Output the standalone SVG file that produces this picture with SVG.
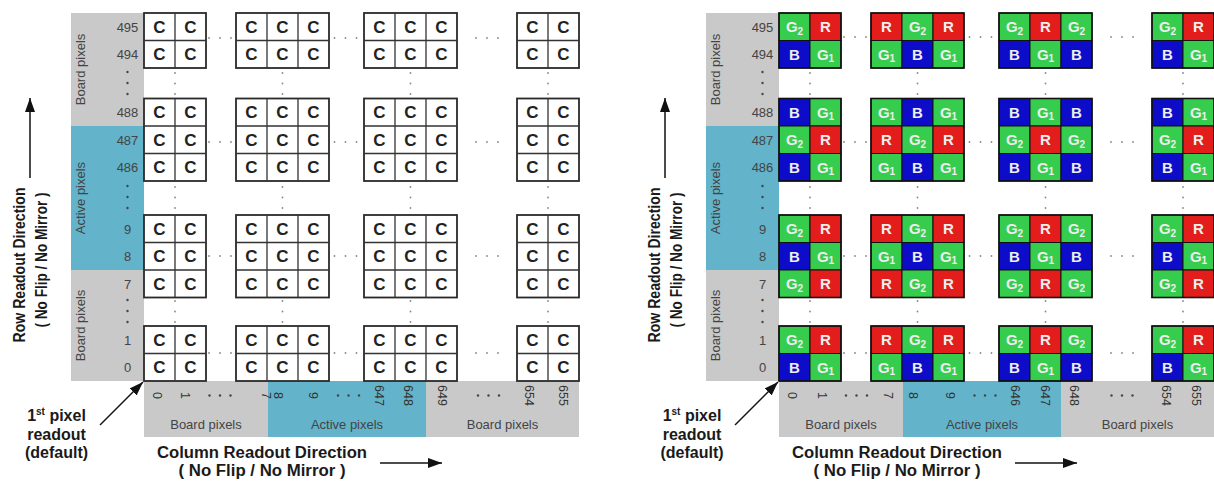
<svg xmlns="http://www.w3.org/2000/svg" width="1214" height="482" viewBox="0 0 1214 482">
  <style>
    text { font-family: "Liberation Sans", Arial, sans-serif; }
    .sg { fill: #c9c9c9; }
    .sb { fill: #63b3cb; }
    .wb { fill: #ffffff; stroke: #2a2a2a; stroke-width: 1.8; }
    .gl { fill: none; stroke: #333333; stroke-width: 1.3; }
    .ob { fill: none; stroke: #111111; stroke-width: 1.6; }
    .g { fill: #36cd4e; stroke: #111111; stroke-width: 1; }
    .r { fill: #e31c1c; stroke: #111111; stroke-width: 1; }
    .b { fill: #0c0cc9; stroke: #111111; stroke-width: 1; }
    .tc { font-size: 17px; font-weight: bold; fill: #222222; text-anchor: middle; }
    .tb { font-size: 15px; font-weight: bold; fill: #eeeeee; text-anchor: middle; }
    .sub { font-size: 10px; }
    .rn { font-size: 13px; fill: #444444; text-anchor: middle; }
    .cn { font-size: 12.5px; fill: #333333; text-anchor: middle; }
    .sl { font-size: 13px; fill: #444444; text-anchor: middle; }
    .hd { font-size: 16px; font-weight: bold; fill: #1a1a1a; text-anchor: middle; }
    .sup { font-size: 10px; }
    .dk { fill: #444444; }
    .lt { fill: #888888; }
    .ar { fill: none; stroke: #111111; stroke-width: 1.5; marker-end: url(#ah); }
  </style>
  <defs>
    <marker id="ah" viewBox="0 0 14 10" refX="14" refY="5" markerWidth="14" markerHeight="10" markerUnits="userSpaceOnUse" orient="auto">
      <path d="M0 0L14 5L0 10z" fill="#111111"/>
    </marker>
    <!-- dot columns / rows reused in both panels -->
    <g id="vdots">
      <circle class="lt" cx="0" cy="0" r="0.9"/>
      <circle class="lt" cx="0" cy="10.5" r="0.9"/>
      <circle class="lt" cx="0" cy="21" r="0.9"/>
    </g>
    <g id="hdots">
      <circle class="lt" cx="-11" cy="0" r="0.9"/>
      <circle class="lt" cx="0" cy="0" r="0.9"/>
      <circle class="lt" cx="11" cy="0" r="0.9"/>
    </g>
    <g id="sdots">
      <circle class="dk" cx="0" cy="0" r="1.2"/>
      <circle class="dk" cx="0" cy="11" r="1.2"/>
      <circle class="dk" cx="0" cy="22" r="1.2"/>
    </g>
    <g id="ldots">
      <circle class="dk" cx="-10.5" cy="0" r="1.2"/>
      <circle class="dk" cx="0" cy="0" r="1.2"/>
      <circle class="dk" cx="10.5" cy="0" r="1.2"/>
    </g>
  </defs>

  <rect width="1214" height="482" fill="#ffffff"/>

  <!-- ================= Monochrome sensor (left) ================= -->
  <g id="panel-mono">
    <g id="mono-row-strip">
      <rect class="sg" x="71" y="13" width="73" height="113"/>
      <rect class="sb" x="71" y="126" width="73" height="144"/>
      <rect class="sg" x="71" y="270" width="73" height="111"/>
      <text class="sl" transform="translate(84.5,69.5) rotate(-90)">Board pixels</text>
      <text class="sl" transform="translate(84.5,198) rotate(-90)">Active pixels</text>
      <text class="sl" transform="translate(84.5,325.5) rotate(-90)">Board pixels</text>
      <text class="rn" x="127.5" y="31.5">495</text>
      <text class="rn" x="127.5" y="59">494</text>
      <text class="rn" x="127.5" y="117">488</text>
      <text class="rn" x="127.5" y="144.5">487</text>
      <text class="rn" x="127.5" y="172">486</text>
      <text class="rn" x="127.5" y="233.5">9</text>
      <text class="rn" x="127.5" y="261">8</text>
      <text class="rn" x="127.5" y="288.5">7</text>
      <text class="rn" x="127.5" y="344.5">1</text>
      <text class="rn" x="127.5" y="372">0</text>
      <use href="#sdots" x="127.5" y="72"/>
      <use href="#sdots" x="127.5" y="186"/>
      <use href="#sdots" x="127.5" y="300"/>
    </g>
    <g id="mono-col-strip">
      <rect class="sg" x="144" y="381" width="124" height="56"/>
      <rect class="sb" x="268" y="381" width="158" height="56"/>
      <rect class="sg" x="426" y="381" width="153" height="56"/>
      <text class="cn" transform="translate(157,395.5) rotate(90)" y="4.5">0</text>
      <text class="cn" transform="translate(185,395.5) rotate(90)" y="4.5">1</text>
      <text class="cn" transform="translate(266,395.5) rotate(90)" y="4.5">7</text>
      <text class="cn" transform="translate(278,395.5) rotate(90)" y="4.5">8</text>
      <text class="cn" transform="translate(313,395.5) rotate(90)" y="4.5">9</text>
      <text class="cn" transform="translate(379,395.5) rotate(90)" y="4.5">647</text>
      <text class="cn" transform="translate(408,395.5) rotate(90)" y="4.5">648</text>
      <text class="cn" transform="translate(442,395.5) rotate(90)" y="4.5">649</text>
      <text class="cn" transform="translate(529,395.5) rotate(90)" y="4.5">654</text>
      <text class="cn" transform="translate(563,395.5) rotate(90)" y="4.5">655</text>
      <use href="#ldots" x="220" y="395.5"/>
      <use href="#ldots" x="348.5" y="395.5"/>
      <use href="#ldots" x="488.5" y="395.5"/>
      <text class="sl" x="206" y="429">Board pixels</text>
      <text class="sl" x="347" y="429">Active pixels</text>
      <text class="sl" x="502.5" y="429">Board pixels</text>
    </g>

    <!-- rows 495-494 -->
    <g id="mono-a1">
      <rect class="wb" x="144" y="13" width="62" height="55"/>
      <path class="gl" d="M175 13V68M144 40.5H206"/>
      <text class="tc" x="159.5" y="32.5">C</text><text class="tc" x="190.5" y="32.5">C</text>
      <text class="tc" x="159.5" y="60">C</text><text class="tc" x="190.5" y="60">C</text>
    </g>
    <g id="mono-a2">
      <rect class="wb" x="236" y="13" width="93" height="55"/>
      <path class="gl" d="M267 13V68M298 13V68M236 40.5H329"/>
      <text class="tc" x="251.5" y="32.5">C</text><text class="tc" x="282.5" y="32.5">C</text><text class="tc" x="313.5" y="32.5">C</text>
      <text class="tc" x="251.5" y="60">C</text><text class="tc" x="282.5" y="60">C</text><text class="tc" x="313.5" y="60">C</text>
    </g>
    <g id="mono-a3">
      <rect class="wb" x="364" y="13" width="93" height="55"/>
      <path class="gl" d="M395 13V68M426 13V68M364 40.5H457"/>
      <text class="tc" x="379.5" y="32.5">C</text><text class="tc" x="410.5" y="32.5">C</text><text class="tc" x="441.5" y="32.5">C</text>
      <text class="tc" x="379.5" y="60">C</text><text class="tc" x="410.5" y="60">C</text><text class="tc" x="441.5" y="60">C</text>
    </g>
    <g id="mono-a4">
      <rect class="wb" x="517" y="13" width="62" height="55"/>
      <path class="gl" d="M548 13V68M517 40.5H579"/>
      <text class="tc" x="532.5" y="32.5">C</text><text class="tc" x="563.5" y="32.5">C</text>
      <text class="tc" x="532.5" y="60">C</text><text class="tc" x="563.5" y="60">C</text>
    </g>

    <!-- rows 488-486 -->
    <g id="mono-b1">
      <rect class="wb" x="144" y="98.5" width="62" height="82.5"/>
      <path class="gl" d="M175 98.5V181M144 126H206M144 153.5H206"/>
      <text class="tc" x="159.5" y="118">C</text><text class="tc" x="190.5" y="118">C</text>
      <text class="tc" x="159.5" y="145.5">C</text><text class="tc" x="190.5" y="145.5">C</text>
      <text class="tc" x="159.5" y="173">C</text><text class="tc" x="190.5" y="173">C</text>
    </g>
    <g id="mono-b2">
      <rect class="wb" x="236" y="98.5" width="93" height="82.5"/>
      <path class="gl" d="M267 98.5V181M298 98.5V181M236 126H329M236 153.5H329"/>
      <text class="tc" x="251.5" y="118">C</text><text class="tc" x="282.5" y="118">C</text><text class="tc" x="313.5" y="118">C</text>
      <text class="tc" x="251.5" y="145.5">C</text><text class="tc" x="282.5" y="145.5">C</text><text class="tc" x="313.5" y="145.5">C</text>
      <text class="tc" x="251.5" y="173">C</text><text class="tc" x="282.5" y="173">C</text><text class="tc" x="313.5" y="173">C</text>
    </g>
    <g id="mono-b3">
      <rect class="wb" x="364" y="98.5" width="93" height="82.5"/>
      <path class="gl" d="M395 98.5V181M426 98.5V181M364 126H457M364 153.5H457"/>
      <text class="tc" x="379.5" y="118">C</text><text class="tc" x="410.5" y="118">C</text><text class="tc" x="441.5" y="118">C</text>
      <text class="tc" x="379.5" y="145.5">C</text><text class="tc" x="410.5" y="145.5">C</text><text class="tc" x="441.5" y="145.5">C</text>
      <text class="tc" x="379.5" y="173">C</text><text class="tc" x="410.5" y="173">C</text><text class="tc" x="441.5" y="173">C</text>
    </g>
    <g id="mono-b4">
      <rect class="wb" x="517" y="98.5" width="62" height="82.5"/>
      <path class="gl" d="M548 98.5V181M517 126H579M517 153.5H579"/>
      <text class="tc" x="532.5" y="118">C</text><text class="tc" x="563.5" y="118">C</text>
      <text class="tc" x="532.5" y="145.5">C</text><text class="tc" x="563.5" y="145.5">C</text>
      <text class="tc" x="532.5" y="173">C</text><text class="tc" x="563.5" y="173">C</text>
    </g>

    <!-- rows 9-7 -->
    <g id="mono-c1">
      <rect class="wb" x="144" y="215" width="62" height="82.5"/>
      <path class="gl" d="M175 215V297.5M144 242.5H206M144 270H206"/>
      <text class="tc" x="159.5" y="234.5">C</text><text class="tc" x="190.5" y="234.5">C</text>
      <text class="tc" x="159.5" y="262">C</text><text class="tc" x="190.5" y="262">C</text>
      <text class="tc" x="159.5" y="289.5">C</text><text class="tc" x="190.5" y="289.5">C</text>
    </g>
    <g id="mono-c2">
      <rect class="wb" x="236" y="215" width="93" height="82.5"/>
      <path class="gl" d="M267 215V297.5M298 215V297.5M236 242.5H329M236 270H329"/>
      <text class="tc" x="251.5" y="234.5">C</text><text class="tc" x="282.5" y="234.5">C</text><text class="tc" x="313.5" y="234.5">C</text>
      <text class="tc" x="251.5" y="262">C</text><text class="tc" x="282.5" y="262">C</text><text class="tc" x="313.5" y="262">C</text>
      <text class="tc" x="251.5" y="289.5">C</text><text class="tc" x="282.5" y="289.5">C</text><text class="tc" x="313.5" y="289.5">C</text>
    </g>
    <g id="mono-c3">
      <rect class="wb" x="364" y="215" width="93" height="82.5"/>
      <path class="gl" d="M395 215V297.5M426 215V297.5M364 242.5H457M364 270H457"/>
      <text class="tc" x="379.5" y="234.5">C</text><text class="tc" x="410.5" y="234.5">C</text><text class="tc" x="441.5" y="234.5">C</text>
      <text class="tc" x="379.5" y="262">C</text><text class="tc" x="410.5" y="262">C</text><text class="tc" x="441.5" y="262">C</text>
      <text class="tc" x="379.5" y="289.5">C</text><text class="tc" x="410.5" y="289.5">C</text><text class="tc" x="441.5" y="289.5">C</text>
    </g>
    <g id="mono-c4">
      <rect class="wb" x="517" y="215" width="62" height="82.5"/>
      <path class="gl" d="M548 215V297.5M517 242.5H579M517 270H579"/>
      <text class="tc" x="532.5" y="234.5">C</text><text class="tc" x="563.5" y="234.5">C</text>
      <text class="tc" x="532.5" y="262">C</text><text class="tc" x="563.5" y="262">C</text>
      <text class="tc" x="532.5" y="289.5">C</text><text class="tc" x="563.5" y="289.5">C</text>
    </g>

    <!-- rows 1-0 -->
    <g id="mono-d1">
      <rect class="wb" x="144" y="326" width="62" height="55"/>
      <path class="gl" d="M175 326V381M144 353.5H206"/>
      <text class="tc" x="159.5" y="345.5">C</text><text class="tc" x="190.5" y="345.5">C</text>
      <text class="tc" x="159.5" y="373">C</text><text class="tc" x="190.5" y="373">C</text>
    </g>
    <g id="mono-d2">
      <rect class="wb" x="236" y="326" width="93" height="55"/>
      <path class="gl" d="M267 326V381M298 326V381M236 353.5H329"/>
      <text class="tc" x="251.5" y="345.5">C</text><text class="tc" x="282.5" y="345.5">C</text><text class="tc" x="313.5" y="345.5">C</text>
      <text class="tc" x="251.5" y="373">C</text><text class="tc" x="282.5" y="373">C</text><text class="tc" x="313.5" y="373">C</text>
    </g>
    <g id="mono-d3">
      <rect class="wb" x="364" y="326" width="93" height="55"/>
      <path class="gl" d="M395 326V381M426 326V381M364 353.5H457"/>
      <text class="tc" x="379.5" y="345.5">C</text><text class="tc" x="410.5" y="345.5">C</text><text class="tc" x="441.5" y="345.5">C</text>
      <text class="tc" x="379.5" y="373">C</text><text class="tc" x="410.5" y="373">C</text><text class="tc" x="441.5" y="373">C</text>
    </g>
    <g id="mono-d4">
      <rect class="wb" x="517" y="326" width="62" height="55"/>
      <path class="gl" d="M548 326V381M517 353.5H579"/>
      <text class="tc" x="532.5" y="345.5">C</text><text class="tc" x="563.5" y="345.5">C</text>
      <text class="tc" x="532.5" y="373">C</text><text class="tc" x="563.5" y="373">C</text>
    </g>

    <!-- ellipsis dots between blocks -->
    <g id="mono-gaps">
      <use href="#vdots" x="175" y="73"/><use href="#vdots" x="282.5" y="73"/><use href="#vdots" x="410.5" y="73"/><use href="#vdots" x="548" y="73"/>
      <use href="#vdots" x="175" y="187"/><use href="#vdots" x="282.5" y="187"/><use href="#vdots" x="410.5" y="187"/><use href="#vdots" x="548" y="187"/>
      <use href="#vdots" x="175" y="301"/><use href="#vdots" x="282.5" y="301"/><use href="#vdots" x="410.5" y="301"/><use href="#vdots" x="548" y="301"/>
      <use href="#hdots" x="220" y="38"/><use href="#hdots" x="345.5" y="38"/><use href="#hdots" x="487" y="38"/>
      <use href="#hdots" x="220" y="142"/><use href="#hdots" x="345.5" y="142"/><use href="#hdots" x="487" y="142"/>
      <use href="#hdots" x="220" y="256"/><use href="#hdots" x="345.5" y="256"/><use href="#hdots" x="487" y="256"/>
      <use href="#hdots" x="220" y="353"/><use href="#hdots" x="345.5" y="353"/><use href="#hdots" x="487" y="353"/>
    </g>

    <g id="mono-labels">
      <text class="hd" transform="translate(25,265) rotate(-90)" textLength="155" lengthAdjust="spacingAndGlyphs">Row Readout Direction</text>
      <text class="hd" transform="translate(47,260) rotate(-90)" textLength="135" lengthAdjust="spacingAndGlyphs">( No Flip / No Mirror )</text>
      <text class="hd" x="262" y="458" textLength="210" lengthAdjust="spacingAndGlyphs">Column Readout Direction</text>
      <text class="hd" x="262" y="476" textLength="167" lengthAdjust="spacingAndGlyphs">( No Flip / No Mirror )</text>
      <text class="hd" x="56.5" y="421">1<tspan class="sup" dy="-6">st</tspan><tspan dy="6"> pixel</tspan></text>
      <text class="hd" x="56.5" y="440">readout</text>
      <text class="hd" x="56.5" y="458">(default)</text>
    </g>

    <g id="mono-connectors">
      <line class="ar" x1="30" y1="178" x2="30" y2="98"/>
      <line class="ar" x1="100" y1="425" x2="143" y2="382"/>
      <line class="ar" x1="380" y1="463" x2="442" y2="463"/>
    </g>
  </g>

  <!-- ================= Bayer colour sensor (right) ================= -->
  <g id="panel-bayer" transform="translate(635,0)">
    <g id="bayer-row-strip">
      <rect class="sg" x="71" y="13" width="73" height="113"/>
      <rect class="sb" x="71" y="126" width="73" height="144"/>
      <rect class="sg" x="71" y="270" width="73" height="111"/>
      <text class="sl" transform="translate(84.5,69.5) rotate(-90)">Board pixels</text>
      <text class="sl" transform="translate(84.5,198) rotate(-90)">Active pixels</text>
      <text class="sl" transform="translate(84.5,325.5) rotate(-90)">Board pixels</text>
      <text class="rn" x="127.5" y="31.5">495</text>
      <text class="rn" x="127.5" y="59">494</text>
      <text class="rn" x="127.5" y="117">488</text>
      <text class="rn" x="127.5" y="144.5">487</text>
      <text class="rn" x="127.5" y="172">486</text>
      <text class="rn" x="127.5" y="233.5">9</text>
      <text class="rn" x="127.5" y="261">8</text>
      <text class="rn" x="127.5" y="288.5">7</text>
      <text class="rn" x="127.5" y="344.5">1</text>
      <text class="rn" x="127.5" y="372">0</text>
      <use href="#sdots" x="127.5" y="72"/>
      <use href="#sdots" x="127.5" y="186"/>
      <use href="#sdots" x="127.5" y="300"/>
    </g>
    <g id="bayer-col-strip">
      <rect class="sg" x="144" y="381" width="124" height="56"/>
      <rect class="sb" x="268" y="381" width="158" height="56"/>
      <rect class="sg" x="426" y="381" width="153" height="56"/>
      <text class="cn" transform="translate(157,395.5) rotate(90)" y="4.5">0</text>
      <text class="cn" transform="translate(187,395.5) rotate(90)" y="4.5">1</text>
      <text class="cn" transform="translate(253,395.5) rotate(90)" y="4.5">7</text>
      <text class="cn" transform="translate(278,395.5) rotate(90)" y="4.5">8</text>
      <text class="cn" transform="translate(315,395.5) rotate(90)" y="4.5">9</text>
      <text class="cn" transform="translate(380,395.5) rotate(90)" y="4.5">646</text>
      <text class="cn" transform="translate(410,395.5) rotate(90)" y="4.5">647</text>
      <text class="cn" transform="translate(439,395.5) rotate(90)" y="4.5">648</text>
      <text class="cn" transform="translate(531,395.5) rotate(90)" y="4.5">654</text>
      <text class="cn" transform="translate(561,395.5) rotate(90)" y="4.5">655</text>
      <use href="#ldots" x="221.5" y="395.5"/>
      <use href="#ldots" x="350" y="395.5"/>
      <use href="#ldots" x="487" y="395.5"/>
      <text class="sl" x="206" y="429">Board pixels</text>
      <text class="sl" x="347" y="429">Active pixels</text>
      <text class="sl" x="502.5" y="429">Board pixels</text>
    </g>

    <!-- rows 495-494 -->
    <g id="bayer-a1">
      <rect class="g" x="144" y="13" width="31" height="27.5"/><rect class="r" x="175" y="13" width="31" height="27.5"/>
      <rect class="b" x="144" y="40.5" width="31" height="27.5"/><rect class="g" x="175" y="40.5" width="31" height="27.5"/>
      <rect class="ob" x="144" y="13" width="62" height="55"/>
      <text class="tb" x="159.5" y="32">G<tspan class="sub" dy="2.5">2</tspan></text><text class="tb" x="190.5" y="32">R</text>
      <text class="tb" x="159.5" y="59.5">B</text><text class="tb" x="190.5" y="59.5">G<tspan class="sub" dy="2.5">1</tspan></text>
    </g>
    <g id="bayer-a2">
      <rect class="r" x="236" y="13" width="31" height="27.5"/><rect class="g" x="267" y="13" width="31" height="27.5"/><rect class="r" x="298" y="13" width="31" height="27.5"/>
      <rect class="g" x="236" y="40.5" width="31" height="27.5"/><rect class="b" x="267" y="40.5" width="31" height="27.5"/><rect class="g" x="298" y="40.5" width="31" height="27.5"/>
      <rect class="ob" x="236" y="13" width="93" height="55"/>
      <text class="tb" x="251.5" y="32">R</text><text class="tb" x="282.5" y="32">G<tspan class="sub" dy="2.5">2</tspan></text><text class="tb" x="313.5" y="32">R</text>
      <text class="tb" x="251.5" y="59.5">G<tspan class="sub" dy="2.5">1</tspan></text><text class="tb" x="282.5" y="59.5">B</text><text class="tb" x="313.5" y="59.5">G<tspan class="sub" dy="2.5">1</tspan></text>
    </g>
    <g id="bayer-a3">
      <rect class="g" x="364" y="13" width="31" height="27.5"/><rect class="r" x="395" y="13" width="31" height="27.5"/><rect class="g" x="426" y="13" width="31" height="27.5"/>
      <rect class="b" x="364" y="40.5" width="31" height="27.5"/><rect class="g" x="395" y="40.5" width="31" height="27.5"/><rect class="b" x="426" y="40.5" width="31" height="27.5"/>
      <rect class="ob" x="364" y="13" width="93" height="55"/>
      <text class="tb" x="379.5" y="32">G<tspan class="sub" dy="2.5">2</tspan></text><text class="tb" x="410.5" y="32">R</text><text class="tb" x="441.5" y="32">G<tspan class="sub" dy="2.5">2</tspan></text>
      <text class="tb" x="379.5" y="59.5">B</text><text class="tb" x="410.5" y="59.5">G<tspan class="sub" dy="2.5">1</tspan></text><text class="tb" x="441.5" y="59.5">B</text>
    </g>
    <g id="bayer-a4">
      <rect class="g" x="517" y="13" width="31" height="27.5"/><rect class="r" x="548" y="13" width="31" height="27.5"/>
      <rect class="b" x="517" y="40.5" width="31" height="27.5"/><rect class="g" x="548" y="40.5" width="31" height="27.5"/>
      <rect class="ob" x="517" y="13" width="62" height="55"/>
      <text class="tb" x="532.5" y="32">G<tspan class="sub" dy="2.5">2</tspan></text><text class="tb" x="563.5" y="32">R</text>
      <text class="tb" x="532.5" y="59.5">B</text><text class="tb" x="563.5" y="59.5">G<tspan class="sub" dy="2.5">1</tspan></text>
    </g>

    <!-- rows 488-486 -->
    <g id="bayer-b1">
      <rect class="b" x="144" y="98.5" width="31" height="27.5"/><rect class="g" x="175" y="98.5" width="31" height="27.5"/>
      <rect class="g" x="144" y="126" width="31" height="27.5"/><rect class="r" x="175" y="126" width="31" height="27.5"/>
      <rect class="b" x="144" y="153.5" width="31" height="27.5"/><rect class="g" x="175" y="153.5" width="31" height="27.5"/>
      <rect class="ob" x="144" y="98.5" width="62" height="82.5"/>
      <text class="tb" x="159.5" y="117.5">B</text><text class="tb" x="190.5" y="117.5">G<tspan class="sub" dy="2.5">1</tspan></text>
      <text class="tb" x="159.5" y="145">G<tspan class="sub" dy="2.5">2</tspan></text><text class="tb" x="190.5" y="145">R</text>
      <text class="tb" x="159.5" y="172.5">B</text><text class="tb" x="190.5" y="172.5">G<tspan class="sub" dy="2.5">1</tspan></text>
    </g>
    <g id="bayer-b2">
      <rect class="g" x="236" y="98.5" width="31" height="27.5"/><rect class="b" x="267" y="98.5" width="31" height="27.5"/><rect class="g" x="298" y="98.5" width="31" height="27.5"/>
      <rect class="r" x="236" y="126" width="31" height="27.5"/><rect class="g" x="267" y="126" width="31" height="27.5"/><rect class="r" x="298" y="126" width="31" height="27.5"/>
      <rect class="g" x="236" y="153.5" width="31" height="27.5"/><rect class="b" x="267" y="153.5" width="31" height="27.5"/><rect class="g" x="298" y="153.5" width="31" height="27.5"/>
      <rect class="ob" x="236" y="98.5" width="93" height="82.5"/>
      <text class="tb" x="251.5" y="117.5">G<tspan class="sub" dy="2.5">1</tspan></text><text class="tb" x="282.5" y="117.5">B</text><text class="tb" x="313.5" y="117.5">G<tspan class="sub" dy="2.5">1</tspan></text>
      <text class="tb" x="251.5" y="145">R</text><text class="tb" x="282.5" y="145">G<tspan class="sub" dy="2.5">2</tspan></text><text class="tb" x="313.5" y="145">R</text>
      <text class="tb" x="251.5" y="172.5">G<tspan class="sub" dy="2.5">1</tspan></text><text class="tb" x="282.5" y="172.5">B</text><text class="tb" x="313.5" y="172.5">G<tspan class="sub" dy="2.5">1</tspan></text>
    </g>
    <g id="bayer-b3">
      <rect class="b" x="364" y="98.5" width="31" height="27.5"/><rect class="g" x="395" y="98.5" width="31" height="27.5"/><rect class="b" x="426" y="98.5" width="31" height="27.5"/>
      <rect class="g" x="364" y="126" width="31" height="27.5"/><rect class="r" x="395" y="126" width="31" height="27.5"/><rect class="g" x="426" y="126" width="31" height="27.5"/>
      <rect class="b" x="364" y="153.5" width="31" height="27.5"/><rect class="g" x="395" y="153.5" width="31" height="27.5"/><rect class="b" x="426" y="153.5" width="31" height="27.5"/>
      <rect class="ob" x="364" y="98.5" width="93" height="82.5"/>
      <text class="tb" x="379.5" y="117.5">B</text><text class="tb" x="410.5" y="117.5">G<tspan class="sub" dy="2.5">1</tspan></text><text class="tb" x="441.5" y="117.5">B</text>
      <text class="tb" x="379.5" y="145">G<tspan class="sub" dy="2.5">2</tspan></text><text class="tb" x="410.5" y="145">R</text><text class="tb" x="441.5" y="145">G<tspan class="sub" dy="2.5">2</tspan></text>
      <text class="tb" x="379.5" y="172.5">B</text><text class="tb" x="410.5" y="172.5">G<tspan class="sub" dy="2.5">1</tspan></text><text class="tb" x="441.5" y="172.5">B</text>
    </g>
    <g id="bayer-b4">
      <rect class="b" x="517" y="98.5" width="31" height="27.5"/><rect class="g" x="548" y="98.5" width="31" height="27.5"/>
      <rect class="g" x="517" y="126" width="31" height="27.5"/><rect class="r" x="548" y="126" width="31" height="27.5"/>
      <rect class="b" x="517" y="153.5" width="31" height="27.5"/><rect class="g" x="548" y="153.5" width="31" height="27.5"/>
      <rect class="ob" x="517" y="98.5" width="62" height="82.5"/>
      <text class="tb" x="532.5" y="117.5">B</text><text class="tb" x="563.5" y="117.5">G<tspan class="sub" dy="2.5">1</tspan></text>
      <text class="tb" x="532.5" y="145">G<tspan class="sub" dy="2.5">2</tspan></text><text class="tb" x="563.5" y="145">R</text>
      <text class="tb" x="532.5" y="172.5">B</text><text class="tb" x="563.5" y="172.5">G<tspan class="sub" dy="2.5">1</tspan></text>
    </g>

    <!-- rows 9-7 -->
    <g id="bayer-c1">
      <rect class="g" x="144" y="215" width="31" height="27.5"/><rect class="r" x="175" y="215" width="31" height="27.5"/>
      <rect class="b" x="144" y="242.5" width="31" height="27.5"/><rect class="g" x="175" y="242.5" width="31" height="27.5"/>
      <rect class="g" x="144" y="270" width="31" height="27.5"/><rect class="r" x="175" y="270" width="31" height="27.5"/>
      <rect class="ob" x="144" y="215" width="62" height="82.5"/>
      <text class="tb" x="159.5" y="234">G<tspan class="sub" dy="2.5">2</tspan></text><text class="tb" x="190.5" y="234">R</text>
      <text class="tb" x="159.5" y="261.5">B</text><text class="tb" x="190.5" y="261.5">G<tspan class="sub" dy="2.5">1</tspan></text>
      <text class="tb" x="159.5" y="289">G<tspan class="sub" dy="2.5">2</tspan></text><text class="tb" x="190.5" y="289">R</text>
    </g>
    <g id="bayer-c2">
      <rect class="r" x="236" y="215" width="31" height="27.5"/><rect class="g" x="267" y="215" width="31" height="27.5"/><rect class="r" x="298" y="215" width="31" height="27.5"/>
      <rect class="g" x="236" y="242.5" width="31" height="27.5"/><rect class="b" x="267" y="242.5" width="31" height="27.5"/><rect class="g" x="298" y="242.5" width="31" height="27.5"/>
      <rect class="r" x="236" y="270" width="31" height="27.5"/><rect class="g" x="267" y="270" width="31" height="27.5"/><rect class="r" x="298" y="270" width="31" height="27.5"/>
      <rect class="ob" x="236" y="215" width="93" height="82.5"/>
      <text class="tb" x="251.5" y="234">R</text><text class="tb" x="282.5" y="234">G<tspan class="sub" dy="2.5">2</tspan></text><text class="tb" x="313.5" y="234">R</text>
      <text class="tb" x="251.5" y="261.5">G<tspan class="sub" dy="2.5">1</tspan></text><text class="tb" x="282.5" y="261.5">B</text><text class="tb" x="313.5" y="261.5">G<tspan class="sub" dy="2.5">1</tspan></text>
      <text class="tb" x="251.5" y="289">R</text><text class="tb" x="282.5" y="289">G<tspan class="sub" dy="2.5">2</tspan></text><text class="tb" x="313.5" y="289">R</text>
    </g>
    <g id="bayer-c3">
      <rect class="g" x="364" y="215" width="31" height="27.5"/><rect class="r" x="395" y="215" width="31" height="27.5"/><rect class="g" x="426" y="215" width="31" height="27.5"/>
      <rect class="b" x="364" y="242.5" width="31" height="27.5"/><rect class="g" x="395" y="242.5" width="31" height="27.5"/><rect class="b" x="426" y="242.5" width="31" height="27.5"/>
      <rect class="g" x="364" y="270" width="31" height="27.5"/><rect class="r" x="395" y="270" width="31" height="27.5"/><rect class="g" x="426" y="270" width="31" height="27.5"/>
      <rect class="ob" x="364" y="215" width="93" height="82.5"/>
      <text class="tb" x="379.5" y="234">G<tspan class="sub" dy="2.5">2</tspan></text><text class="tb" x="410.5" y="234">R</text><text class="tb" x="441.5" y="234">G<tspan class="sub" dy="2.5">2</tspan></text>
      <text class="tb" x="379.5" y="261.5">B</text><text class="tb" x="410.5" y="261.5">G<tspan class="sub" dy="2.5">1</tspan></text><text class="tb" x="441.5" y="261.5">B</text>
      <text class="tb" x="379.5" y="289">G<tspan class="sub" dy="2.5">2</tspan></text><text class="tb" x="410.5" y="289">R</text><text class="tb" x="441.5" y="289">G<tspan class="sub" dy="2.5">2</tspan></text>
    </g>
    <g id="bayer-c4">
      <rect class="g" x="517" y="215" width="31" height="27.5"/><rect class="r" x="548" y="215" width="31" height="27.5"/>
      <rect class="b" x="517" y="242.5" width="31" height="27.5"/><rect class="g" x="548" y="242.5" width="31" height="27.5"/>
      <rect class="g" x="517" y="270" width="31" height="27.5"/><rect class="r" x="548" y="270" width="31" height="27.5"/>
      <rect class="ob" x="517" y="215" width="62" height="82.5"/>
      <text class="tb" x="532.5" y="234">G<tspan class="sub" dy="2.5">2</tspan></text><text class="tb" x="563.5" y="234">R</text>
      <text class="tb" x="532.5" y="261.5">B</text><text class="tb" x="563.5" y="261.5">G<tspan class="sub" dy="2.5">1</tspan></text>
      <text class="tb" x="532.5" y="289">G<tspan class="sub" dy="2.5">2</tspan></text><text class="tb" x="563.5" y="289">R</text>
    </g>

    <!-- rows 1-0 -->
    <g id="bayer-d1">
      <rect class="g" x="144" y="326" width="31" height="27.5"/><rect class="r" x="175" y="326" width="31" height="27.5"/>
      <rect class="b" x="144" y="353.5" width="31" height="27.5"/><rect class="g" x="175" y="353.5" width="31" height="27.5"/>
      <rect class="ob" x="144" y="326" width="62" height="55"/>
      <text class="tb" x="159.5" y="345">G<tspan class="sub" dy="2.5">2</tspan></text><text class="tb" x="190.5" y="345">R</text>
      <text class="tb" x="159.5" y="372.5">B</text><text class="tb" x="190.5" y="372.5">G<tspan class="sub" dy="2.5">1</tspan></text>
    </g>
    <g id="bayer-d2">
      <rect class="r" x="236" y="326" width="31" height="27.5"/><rect class="g" x="267" y="326" width="31" height="27.5"/><rect class="r" x="298" y="326" width="31" height="27.5"/>
      <rect class="g" x="236" y="353.5" width="31" height="27.5"/><rect class="b" x="267" y="353.5" width="31" height="27.5"/><rect class="g" x="298" y="353.5" width="31" height="27.5"/>
      <rect class="ob" x="236" y="326" width="93" height="55"/>
      <text class="tb" x="251.5" y="345">R</text><text class="tb" x="282.5" y="345">G<tspan class="sub" dy="2.5">2</tspan></text><text class="tb" x="313.5" y="345">R</text>
      <text class="tb" x="251.5" y="372.5">G<tspan class="sub" dy="2.5">1</tspan></text><text class="tb" x="282.5" y="372.5">B</text><text class="tb" x="313.5" y="372.5">G<tspan class="sub" dy="2.5">1</tspan></text>
    </g>
    <g id="bayer-d3">
      <rect class="g" x="364" y="326" width="31" height="27.5"/><rect class="r" x="395" y="326" width="31" height="27.5"/><rect class="g" x="426" y="326" width="31" height="27.5"/>
      <rect class="b" x="364" y="353.5" width="31" height="27.5"/><rect class="g" x="395" y="353.5" width="31" height="27.5"/><rect class="b" x="426" y="353.5" width="31" height="27.5"/>
      <rect class="ob" x="364" y="326" width="93" height="55"/>
      <text class="tb" x="379.5" y="345">G<tspan class="sub" dy="2.5">2</tspan></text><text class="tb" x="410.5" y="345">R</text><text class="tb" x="441.5" y="345">G<tspan class="sub" dy="2.5">2</tspan></text>
      <text class="tb" x="379.5" y="372.5">B</text><text class="tb" x="410.5" y="372.5">G<tspan class="sub" dy="2.5">1</tspan></text><text class="tb" x="441.5" y="372.5">B</text>
    </g>
    <g id="bayer-d4">
      <rect class="g" x="517" y="326" width="31" height="27.5"/><rect class="r" x="548" y="326" width="31" height="27.5"/>
      <rect class="b" x="517" y="353.5" width="31" height="27.5"/><rect class="g" x="548" y="353.5" width="31" height="27.5"/>
      <rect class="ob" x="517" y="326" width="62" height="55"/>
      <text class="tb" x="532.5" y="345">G<tspan class="sub" dy="2.5">2</tspan></text><text class="tb" x="563.5" y="345">R</text>
      <text class="tb" x="532.5" y="372.5">B</text><text class="tb" x="563.5" y="372.5">G<tspan class="sub" dy="2.5">1</tspan></text>
    </g>

    <g id="bayer-gaps">
      <use href="#vdots" x="175" y="73"/><use href="#vdots" x="282.5" y="73"/><use href="#vdots" x="410.5" y="73"/><use href="#vdots" x="548" y="73"/>
      <use href="#vdots" x="175" y="187"/><use href="#vdots" x="282.5" y="187"/><use href="#vdots" x="410.5" y="187"/><use href="#vdots" x="548" y="187"/>
      <use href="#vdots" x="175" y="301"/><use href="#vdots" x="282.5" y="301"/><use href="#vdots" x="410.5" y="301"/><use href="#vdots" x="548" y="301"/>
      <use href="#hdots" x="220" y="37"/><use href="#hdots" x="345.5" y="37"/><use href="#hdots" x="487" y="37"/>
      <use href="#hdots" x="220" y="142"/><use href="#hdots" x="345.5" y="142"/><use href="#hdots" x="487" y="142"/>
      <use href="#hdots" x="220" y="256"/><use href="#hdots" x="345.5" y="256"/><use href="#hdots" x="487" y="256"/>
      <use href="#hdots" x="220" y="353"/><use href="#hdots" x="345.5" y="353"/><use href="#hdots" x="487" y="353"/>
    </g>

    <g id="bayer-labels">
      <text class="hd" transform="translate(25,265) rotate(-90)" textLength="155" lengthAdjust="spacingAndGlyphs">Row Readout Direction</text>
      <text class="hd" transform="translate(47,260) rotate(-90)" textLength="135" lengthAdjust="spacingAndGlyphs">( No Flip / No Mirror )</text>
      <text class="hd" x="262" y="458" textLength="210" lengthAdjust="spacingAndGlyphs">Column Readout Direction</text>
      <text class="hd" x="262" y="476" textLength="167" lengthAdjust="spacingAndGlyphs">( No Flip / No Mirror )</text>
      <text class="hd" x="57" y="421">1<tspan class="sup" dy="-6">st</tspan><tspan dy="6"> pixel</tspan></text>
      <text class="hd" x="57" y="440">readout</text>
      <text class="hd" x="57" y="458">(default)</text>
    </g>

    <g id="bayer-connectors">
      <line class="ar" x1="30" y1="178" x2="30" y2="98"/>
      <line class="ar" x1="100" y1="425" x2="143" y2="382"/>
      <line class="ar" x1="380" y1="463" x2="442" y2="463"/>
    </g>
  </g>
</svg>
